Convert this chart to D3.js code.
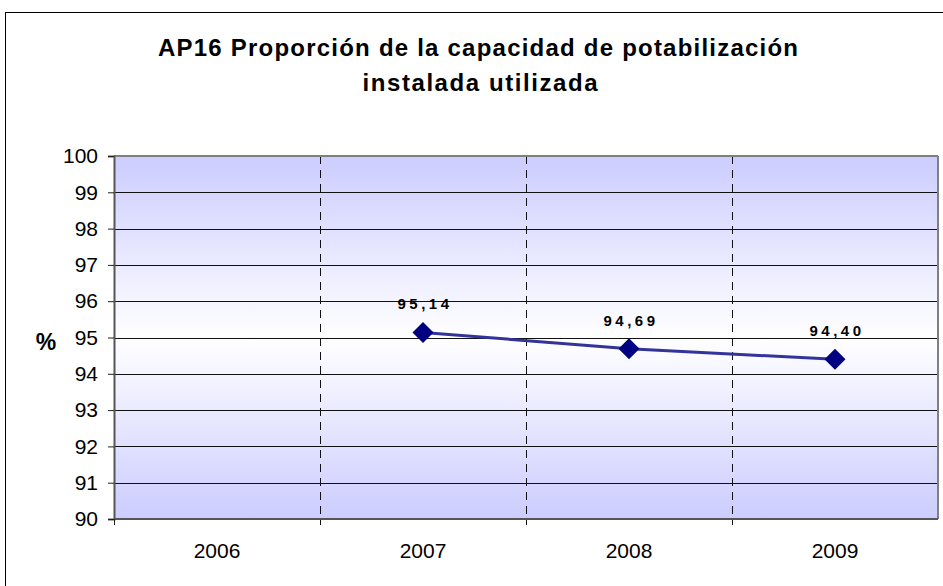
<!DOCTYPE html>
<html>
<head>
<meta charset="utf-8">
<script src="https://cdn.jsdelivr.net/npm/d3@7"></script>
<style>
  body { margin: 0; background: #fff; }
  text { font-family: "Liberation Sans", Arial, sans-serif; }
</style>
</head>
<body>
<svg id="chart" width="943" height="586"></svg>
<script>
// data
var years = ["2006", "2007", "2008", "2009"];
var seriesYears = ["2007", "2008", "2009"];
var seriesValues = [95.14, 94.69, 94.40];
var seriesLabels = ["95,14", "94,69", "94,40"];
var yTicks = [90, 91, 92, 93, 94, 95, 96, 97, 98, 99, 100];

var svg = d3.select("#chart");

var plotLeft = 114, plotRight = 938, plotTop = 156, plotBottom = 519;

// outer frame
svg.append("rect")
    .attr("x", 5.5).attr("y", 12.5)
    .attr("width", 960).attr("height", 600)
    .style("fill", "#fff")
    .style("stroke", "#000")
    .style("stroke-width", 1);

var x = d3.scaleBand().domain(years).range([plotLeft, plotRight]);
var y = d3.scaleLinear().domain([90, 100]).range([plotBottom, plotTop]);

// background gradient
var defs = svg.append("defs");
var grad = defs.append("linearGradient")
    .attr("id", "bg").attr("x1", 0).attr("y1", 0).attr("x2", 0).attr("y2", 1);
grad.append("stop").attr("offset", "0%").attr("stop-color", "#ccccff");
grad.append("stop").attr("offset", "50%").attr("stop-color", "#ffffff");
grad.append("stop").attr("offset", "100%").attr("stop-color", "#ccccff");

svg.append("rect")
    .attr("x", plotLeft).attr("y", plotTop)
    .attr("width", plotRight - plotLeft).attr("height", plotBottom - plotTop)
    .style("fill", "url(#bg)");

// horizontal gridlines
svg.selectAll(".hgrid")
    .data(yTicks.slice(1, -1))
    .enter().append("line")
    .attr("x1", plotLeft).attr("x2", plotRight)
    .attr("y1", function (d) { return Math.round(y(d)) + 0.5; })
    .attr("y2", function (d) { return Math.round(y(d)) + 0.5; })
    .style("stroke", "#111")
    .style("stroke-width", 1);

// vertical dashed gridlines at category boundaries
svg.selectAll(".vgrid")
    .data(years.slice(1))
    .enter().append("line")
    .attr("x1", function (d) { return Math.round(x(d)) + 0.5; })
    .attr("x2", function (d) { return Math.round(x(d)) + 0.5; })
    .attr("y1", plotTop).attr("y2", plotBottom + 6)
    .style("stroke", "#111")
    .style("stroke-width", 1)
    .style("stroke-dasharray", "8,6");

// plot border top/right
svg.append("line")
    .attr("x1", plotLeft).attr("x2", plotRight).attr("y1", plotTop).attr("y2", plotTop)
    .style("stroke", "#808080").style("stroke-width", 2);
svg.append("line")
    .attr("x1", plotRight).attr("x2", plotRight).attr("y1", plotTop).attr("y2", plotBottom)
    .style("stroke", "#808080").style("stroke-width", 2);

// y axis
var yAxis = d3.axisLeft(y).tickValues(yTicks).tickSize(6).tickPadding(10);
var gy = svg.append("g").attr("transform", "translate(" + plotLeft + ",0)").call(yAxis);
gy.select(".domain").style("stroke", "#555").style("stroke-width", 2);
gy.selectAll(".tick line").style("stroke", "#222");
gy.selectAll("text")
    .style("font-family", "'Liberation Sans', Arial, sans-serif")
    .style("font-size", "21px").style("fill", "#000");

// x axis
svg.append("line")
    .attr("x1", plotLeft).attr("x2", plotRight).attr("y1", plotBottom).attr("y2", plotBottom)
    .style("stroke", "#555").style("stroke-width", 2);
svg.append("line")
    .attr("x1", plotLeft + 0.5).attr("x2", plotLeft + 0.5).attr("y1", plotBottom).attr("y2", plotBottom + 6)
    .style("stroke", "#222");

svg.selectAll(".xlabel")
    .data(years)
    .enter().append("text")
    .attr("x", function (d) { return x(d) + x.bandwidth() / 2; })
    .attr("y", 558)
    .style("text-anchor", "middle")
    .style("font-size", "21px")
    .text(function (d) { return d; });

// line
var line = d3.line()
    .x(function (d, i) { return x(seriesYears[i]) + x.bandwidth() / 2; })
    .y(function (d) { return y(d); });

svg.append("path")
    .datum(seriesValues)
    .attr("d", line)
    .style("fill", "none")
    .style("stroke", "#333399")
    .style("stroke-width", 3);

// markers
svg.selectAll(".marker")
    .data(seriesValues)
    .enter().append("path")
    .attr("d", d3.symbol().type(d3.symbolSquare).size(220))
    .attr("transform", function (d, i) {
        return "translate(" + (x(seriesYears[i]) + x.bandwidth() / 2) + "," + y(d) + ") rotate(45)";
    })
    .style("fill", "#000080");

// data labels
svg.selectAll(".dlabel")
    .data(seriesValues)
    .enter().append("text")
    .attr("x", function (d, i) { return x(seriesYears[i]) + x.bandwidth() / 2 + 2; })
    .attr("y", function (d) { return y(d) - 23; })
    .style("text-anchor", "middle")
    .style("font-size", "15px")
    .style("font-weight", "bold")
    .style("letter-spacing", "3.5px")
    .text(function (d, i) { return seriesLabels[i]; });

// y title
svg.append("text")
    .attr("x", 46).attr("y", 350)
    .style("text-anchor", "middle")
    .style("font-size", "23px")
    .style("font-weight", "bold")
    .text("%");

// title
svg.append("text")
    .attr("x", 478).attr("y", 56)
    .style("text-anchor", "middle")
    .style("font-size", "24px")
    .style("font-weight", "bold")
    .attr("textLength", 640)
    .attr("lengthAdjust", "spacing")
    .text("AP16 Proporción de la capacidad de potabilización");
svg.append("text")
    .attr("x", 480).attr("y", 91)
    .style("text-anchor", "middle")
    .style("font-size", "24px")
    .style("font-weight", "bold")
    .attr("textLength", 235)
    .attr("lengthAdjust", "spacing")
    .text("instalada utilizada");
</script>
</body>
</html>
